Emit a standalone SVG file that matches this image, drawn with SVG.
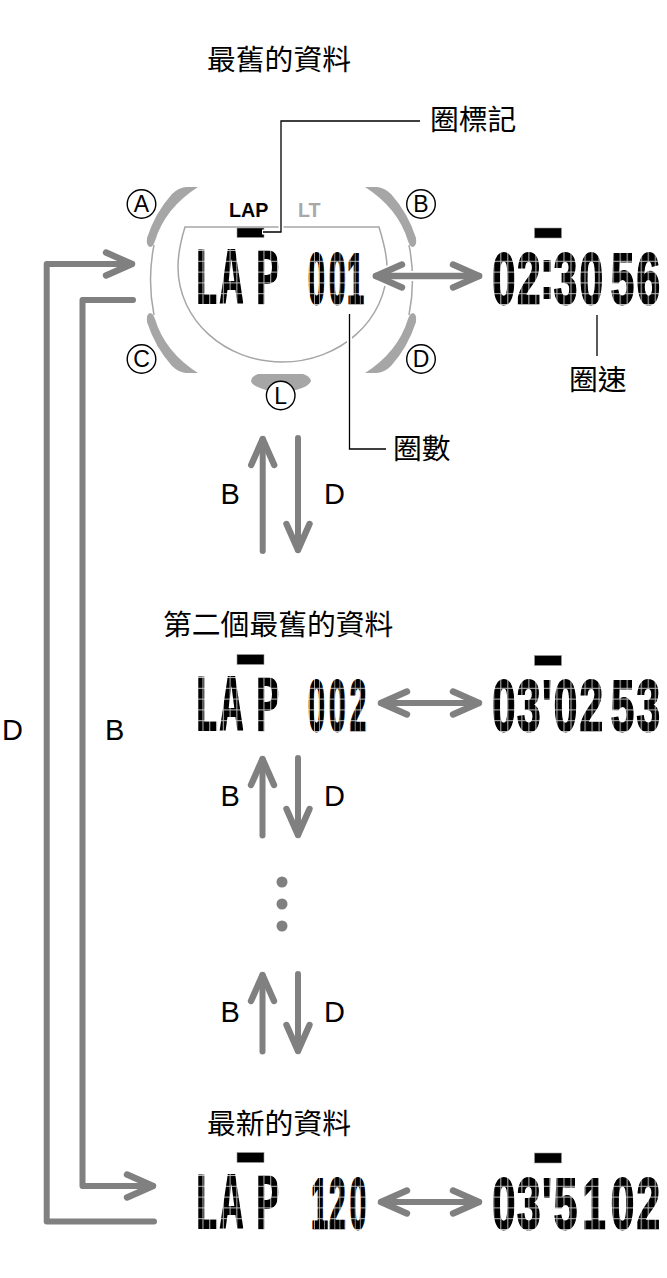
<svg xmlns="http://www.w3.org/2000/svg" width="667" height="1278" viewBox="0 0 667 1278">
  <style>
    text { font-family: "Liberation Sans", Arial, sans-serif; fill: #000; }
    .cjk { font-family: "Noto Sans CJK TC", "Noto Sans CJK SC", sans-serif; font-size: 28.8px; }
    .key { font-size: 29px; }
    .btn { font-size: 23px; text-anchor: middle; }
    .ind { font-size: 19.7px; font-weight: 700; }
    .lcd { font-family: "DejaVu Sans Mono", monospace; font-weight: 700; font-size: 74px; text-anchor: middle; fill: url(#cells); }
    .num { font-family: "Liberation Sans", Arial, sans-serif; font-weight: 700; font-size: 73px; text-anchor: middle; fill: url(#cells); stroke: url(#cells); stroke-width: 2; stroke-linejoin: miter; }
    .bar { fill: #000; stroke: #9a9a9a; stroke-width: .6; }
    .case { fill: #a6a6a6; }
    .ring { fill: none; stroke: #a6a6a6; stroke-width: 1.5; }
    .lead { fill: none; stroke: #000; stroke-width: 1.3; }
    .halo { fill: none; stroke: #fff; stroke-width: 5; }
    .flow { fill: none; stroke: #808080; stroke-width: 6; stroke-linecap: round; stroke-linejoin: round; }
    .ball { fill: #fff; stroke: #000; stroke-width: 1.4; }
    .dot { fill: #808080; }
  </style>
  <defs>
    <!-- one LCD cell: black with a pale hairline on the left and top edges -->
    <pattern id="cells" patternUnits="userSpaceOnUse" width="12.1" height="10.8">
      <rect width="12.1" height="10.8" fill="#000"/>
      <rect width="1.8" height="10.8" fill="#b8b8b8"/>
      <rect width="12.1" height="1" fill="#b8b8b8"/>
    </pattern>
    <!-- open chevron arrowhead; also reversed at the start of two-way arrows -->
    <marker id="head" markerUnits="userSpaceOnUse" markerWidth="60" markerHeight="60" refX="40" refY="30" orient="auto-start-reverse" overflow="visible">
      <path d="M14 18.5 L40 30 L14 41.5" fill="none" stroke="#808080" stroke-width="6.4" stroke-linecap="round" stroke-linejoin="round"/>
    </marker>
    <path id="bezel" d="M198 187 L186 187 Q178 188 172 194 Q155 213 147 238 Q146 246 150 247 Q153 247 155 241 Q165 208 198 187 Z"/>
  </defs>

  <g id="watch">
    <use href="#bezel" class="case"/>
    <use href="#bezel" class="case" transform="translate(563 0) scale(-1 1)"/>
    <use href="#bezel" class="case" transform="translate(0 560) scale(1 -1)"/>
    <use href="#bezel" class="case" transform="translate(563 560) scale(-1 -1)"/>
    <path class="ring" d="M154 245 Q147 280 154 315"/>
    <path class="ring" d="M409 245 Q416 280 409 315"/>
    <path class="ring" d="M185 227 H379 C383 240 387 255 387 267 C387 320 340 362 282 362 C225 362 178 320 178 267 C178 255 181 240 185 227 Z"/>
    <path class="case" d="M258 374 H303 Q310 376 311 381 Q310 386 296 390 H266 Q252 386 251 381 Q252 376 258 374 Z"/>
    <circle class="ball" cx="141.5" cy="204" r="14.3"/>
    <text class="btn" x="141.5" y="212">A</text>
    <circle class="ball" cx="421" cy="204" r="14.3"/>
    <text class="btn" x="421" y="212">B</text>
    <circle class="ball" cx="141.5" cy="359" r="14.3"/>
    <text class="btn" x="141.5" y="367">C</text>
    <circle class="ball" cx="421" cy="359" r="14.3"/>
    <text class="btn" x="421" y="367">D</text>
    <circle class="ball" cx="280.7" cy="395.5" r="14.3"/>
    <text class="btn" x="280.7" y="403.5">L</text>
    <text class="ind" x="229" y="216.5">LAP</text>
    <text class="ind" x="298" y="216.5" style="fill:#a8a8a8">LT</text>
  </g>

  <g id="lap-oldest">
    <rect class="bar" x="237" y="228" width="27" height="9.5"/>
    <text class="lcd" transform="translate(195.7 304) scale(.56 1)" x="18.75 63.75 128.2">LAP</text>
    <text class="num" transform="translate(309 304) scale(.42 1)" x="17.9 67.4 110.7">001</text>
  </g>
  <g id="time-oldest">
    <rect class="bar" x="534.5" y="228" width="27" height="10"/>
    <text class="num" transform="translate(493.3 304) scale(.58 1)" x="18.1 61.2 92.6 124.5 168.8 195 222.8 267" y="0 0 -6 0 0 0 0 0">02:30 56</text>
  </g>
  <g id="lap-second">
    <rect class="bar" x="237" y="654.5" width="27" height="10"/>
    <text class="lcd" transform="translate(195.7 731) scale(.56 1)" x="18.75 63.75 128.2">LAP</text>
    <text class="num" transform="translate(309 731) scale(.42 1)" x="17.9 67.4 116.7">002</text>
  </g>
  <g id="time-second">
    <rect class="bar" x="534.5" y="655.5" width="27" height="10"/>
    <text class="num" transform="translate(493.3 731) scale(.58 1)" x="18.1 61.2 92.6 124.5 168.8 195 222.8 267">03'02 53</text>
  </g>
  <g id="lap-newest">
    <rect class="bar" x="237" y="1152.5" width="27" height="10"/>
    <text class="lcd" transform="translate(195.7 1229) scale(.56 1)" x="18.75 63.75 128.2">LAP</text>
    <text class="num" transform="translate(309 1229) scale(.42 1)" x="25 67.4 116.7">120</text>
  </g>
  <g id="time-newest">
    <rect class="bar" x="534.5" y="1153" width="27" height="10"/>
    <text class="num" transform="translate(493.3 1229) scale(.58 1)" x="18.1 61.2 92.6 124.5 173.6 198 222.8 267">03'51 02</text>
  </g>

  <g id="captions">
    <text class="cjk" x="207" y="70">最舊的資料</text>
    <text class="cjk" x="163" y="635">第二個最舊的資料</text>
    <text class="cjk" x="207" y="1134">最新的資料</text>
    <text class="cjk" x="430" y="130">圈標記</text>
    <text class="cjk" x="393" y="459">圈數</text>
    <text class="cjk" x="569" y="390">圈速</text>
  </g>

  <g id="keys">
    <text class="key" x="220.5" y="504">B</text>
    <text class="key" x="324" y="504">D</text>
    <text class="key" x="220.5" y="806">B</text>
    <text class="key" x="324" y="806">D</text>
    <text class="key" x="220.5" y="1022">B</text>
    <text class="key" x="324" y="1022">D</text>
    <text class="key" x="2" y="740">D</text>
    <text class="key" x="105" y="740">B</text>
  </g>

  <g id="connectors">
    <!-- white gaps where callout lines and the arrow cross the watch outline -->
    <path class="halo" d="M281 222 V232 H262"/>
    <path class="halo" d="M349.5 330 V350"/>
    <path class="halo" style="stroke-width:10" d="M402 265 L374 276 L402 288 M374 276 H420"/>
    <path class="lead" d="M420 121 H281 V232 H263"/>
    <path class="lead" d="M349.5 314 V449 H386"/>
    <path class="lead" d="M597 315 V356"/>
    <path class="flow" style="stroke-width:6.6" d="M376 276 H479" marker-start="url(#head)" marker-end="url(#head)"/>
    <path class="flow" d="M381 703 H479" marker-start="url(#head)" marker-end="url(#head)"/>
    <path class="flow" d="M381 1202 H479" marker-start="url(#head)" marker-end="url(#head)"/>
    <path class="flow" d="M262.7 551 V439" marker-end="url(#head)"/>
    <path class="flow" d="M298 438 V550" marker-end="url(#head)"/>
    <path class="flow" d="M262.5 835.5 V759" marker-end="url(#head)"/>
    <path class="flow" d="M298 758 V835" marker-end="url(#head)"/>
    <path class="flow" d="M262.5 1051.5 V975" marker-end="url(#head)"/>
    <path class="flow" d="M298 974 V1051" marker-end="url(#head)"/>
    <path class="flow" d="M133 300 H82.5 V1186 H153" marker-end="url(#head)"/>
    <path class="flow" d="M154 1221.5 H46.7 V264 H132" marker-end="url(#head)"/>
    <circle class="dot" cx="282" cy="882" r="5.5"/>
    <circle class="dot" cx="282" cy="904" r="5.5"/>
    <circle class="dot" cx="282" cy="926" r="5.5"/>
  </g>
</svg>
